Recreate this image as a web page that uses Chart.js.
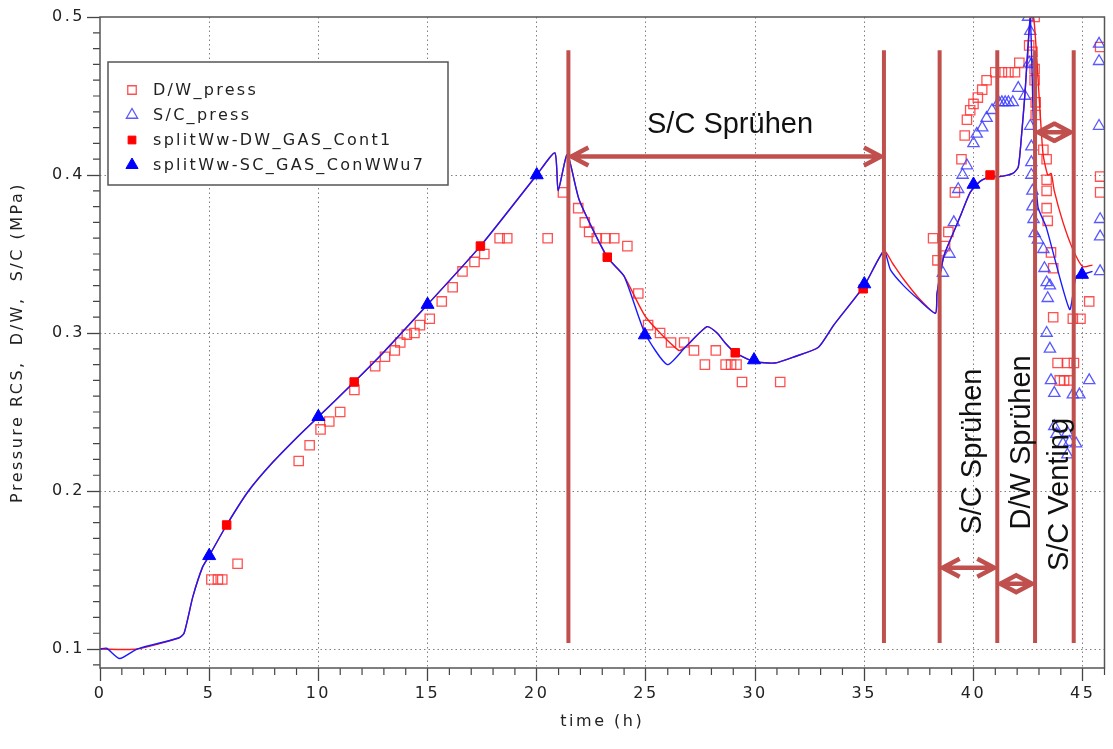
<!DOCTYPE html>
<html>
<head>
<meta charset="utf-8">
<script src="https://cdn.jsdelivr.net/npm/chart.js@4.4.1/dist/chart.umd.min.js"></script>
<style>
  html, body { margin: 0; padding: 0; background: #fff; }
  #wrap { width: 1113px; height: 749px; }
</style>
</head>
<body>
<div id="wrap"><canvas id="pressureChart" width="1113" height="749"></canvas></div>
<script>
// measured D/W pressure (open red squares)
const dwPressTime = [5.1, 5.4, 5.6, 6.3, 9.1, 9.6, 10.1, 10.5, 11.0, 11.65, 12.6, 13.05, 13.5, 13.75, 14.05, 14.4, 14.65, 15.1, 15.65, 16.15, 16.6, 17.15, 17.6, 18.3, 18.65, 20.5, 21.2, 21.9, 22.2, 22.4, 22.75, 23.15, 23.55, 24.15, 24.65, 25.1, 25.65, 26.15, 26.75, 27.2, 27.7, 28.2, 28.65, 28.9, 29.15, 29.4, 31.15, 38.15, 38.35, 38.7, 38.85, 39.15, 39.45, 39.6, 39.7, 39.85, 40.0, 40.2, 40.4, 40.6, 41.0, 41.3, 41.6, 41.9, 42.1, 42.55, 42.7, 42.8, 42.8, 42.8, 42.85, 42.85, 43.2, 43.35, 43.35, 43.35, 43.35, 43.4, 43.55, 43.65, 43.65, 43.85, 44.3, 44.6, 43.95, 44.15, 44.4, 44.55, 44.9, 45.3, 45.8, 45.8, 45.8];
const dwPressVal = [0.144, 0.144, 0.144, 0.154, 0.219, 0.229, 0.239, 0.244, 0.250, 0.264, 0.279, 0.285, 0.289, 0.294, 0.299, 0.300, 0.305, 0.309, 0.320, 0.329, 0.339, 0.345, 0.350, 0.360, 0.360, 0.360, 0.389, 0.379, 0.370, 0.364, 0.360, 0.360, 0.360, 0.355, 0.325, 0.305, 0.300, 0.294, 0.294, 0.289, 0.280, 0.289, 0.280, 0.280, 0.280, 0.269, 0.269, 0.360, 0.346, 0.355, 0.364, 0.389, 0.410, 0.425, 0.435, 0.441, 0.445, 0.449, 0.454, 0.460, 0.465, 0.465, 0.465, 0.465, 0.471, 0.482, 0.478, 0.500, 0.467, 0.460, 0.446, 0.438, 0.416, 0.410, 0.397, 0.390, 0.379, 0.371, 0.351, 0.341, 0.310, 0.281, 0.281, 0.281, 0.270, 0.270, 0.270, 0.309, 0.309, 0.320, 0.481, 0.399, 0.389];

// measured S/C pressure (open blue triangles)
const scPressTime = [38.6, 38.9, 39.1, 39.3, 39.5, 39.7, 40.0, 40.15, 40.4, 40.6, 40.85, 41.15, 41.3, 41.45, 41.6, 41.8, 42.05, 42.35, 42.5, 42.6, 42.55, 42.65, 42.6, 42.65, 42.65, 42.65, 42.7, 42.7, 42.75, 42.8, 42.95, 43.2, 43.25, 43.35, 43.5, 43.4, 43.35, 43.5, 43.55, 43.7, 43.7, 43.8, 44.1, 44.3, 44.3, 44.4, 44.7, 44.55, 44.85, 45.3, 45.75, 45.75, 45.75, 45.8, 45.8, 45.8];
const scPressVal = [0.338, 0.350, 0.370, 0.391, 0.400, 0.406, 0.420, 0.426, 0.430, 0.436, 0.441, 0.446, 0.446, 0.446, 0.446, 0.446, 0.455, 0.450, 0.500, 0.491, 0.471, 0.470, 0.431, 0.418, 0.408, 0.400, 0.390, 0.380, 0.372, 0.363, 0.359, 0.353, 0.341, 0.332, 0.330, 0.322, 0.300, 0.290, 0.270, 0.262, 0.241, 0.236, 0.230, 0.223, 0.237, 0.231, 0.230, 0.261, 0.261, 0.270, 0.483, 0.472, 0.431, 0.372, 0.361, 0.339];

// simulation splitWw-DW_GAS_Cont1 (red line)
const simDwTime = [0, 1.7, 3.6, 3.85, 4.25, 4.7, 5, 5.8, 6.8, 7.9, 9.1, 10, 11.64, 13, 15, 17.42, 20, 20.83, 20.98, 21.4, 21.95, 23.23, 24.0, 25.0, 26.5, 26.8, 27.8, 28.26, 28.64, 29.09, 29.95, 30.9, 31.8, 32.9, 33.6, 35, 35.9, 36.3, 36.8, 37.5, 38.26, 38.33, 38.64, 38.94, 39.4, 39.85, 40.3, 40.76, 41.2, 41.8, 42.05, 42.2, 42.35, 42.6, 42.75, 42.88, 43.18, 43.4, 43.56, 43.7, 44.1, 44.55, 45, 45.45];
const simDwVal = [0.100, 0.100, 0.107, 0.110, 0.133, 0.152, 0.159, 0.1785, 0.200, 0.218, 0.235, 0.247, 0.269, 0.288, 0.318, 0.355, 0.400, 0.414, 0.390, 0.413, 0.384, 0.348, 0.336, 0.310, 0.289, 0.291, 0.304, 0.300, 0.2935, 0.2875, 0.282, 0.281, 0.285, 0.291, 0.305, 0.330, 0.352, 0.344, 0.334, 0.322, 0.3125, 0.325, 0.3485, 0.359, 0.374, 0.389, 0.396, 0.399, 0.399, 0.401, 0.405, 0.425, 0.450, 0.499, 0.500, 0.478, 0.414, 0.400, 0.401, 0.390, 0.370, 0.353, 0.342, 0.343];

// simulation splitWw-SC_GAS_ConWWu7 (blue line)
const simScTime = [0, 0.3, 0.9, 1.7, 3.6, 3.85, 4.25, 4.7, 5, 5.8, 6.8, 7.9, 9.1, 10, 11.64, 13, 15, 17.42, 20, 20.83, 20.98, 21.4, 21.95, 23.23, 24.0, 24.95, 25.98, 26.8, 27.8, 28.26, 28.64, 29.09, 29.95, 30.9, 31.8, 32.9, 33.6, 35, 35.9, 36.2, 36.8, 37.5, 38.26, 38.33, 38.64, 38.94, 39.4, 39.85, 40.3, 40.76, 41.2, 41.8, 42.05, 42.2, 42.35, 42.6, 42.75, 42.95, 43.33, 44.4, 44.7, 44.97, 45.45];
const simScVal = [0.100, 0.1005, 0.094, 0.100, 0.107, 0.110, 0.133, 0.152, 0.159, 0.1785, 0.200, 0.218, 0.235, 0.247, 0.269, 0.288, 0.318, 0.355, 0.400, 0.414, 0.390, 0.413, 0.384, 0.348, 0.336, 0.300, 0.280, 0.291, 0.304, 0.300, 0.2935, 0.2875, 0.282, 0.281, 0.285, 0.291, 0.305, 0.330, 0.352, 0.340, 0.330, 0.321, 0.3125, 0.325, 0.3485, 0.359, 0.374, 0.389, 0.396, 0.399, 0.399, 0.401, 0.405, 0.425, 0.450, 0.499, 0.430, 0.380, 0.367, 0.315, 0.336, 0.337, 0.339];

// symbols on the simulation curves
const simDwMarkTime = [5.8, 11.64, 17.42, 23.23, 29.09, 34.95, 40.76];
const simDwMarkVal = [0.1785, 0.269, 0.355, 0.348, 0.2875, 0.328, 0.400];
const simScMarkTime = [5, 10, 15, 20, 24.95, 29.95, 35, 40, 44.97];
const simScMarkVal = [0.159, 0.247, 0.318, 0.400, 0.2987, 0.2829, 0.331, 0.394, 0.337];

// axes
const xTickValues = [0, 5, 10, 15, 20, 25, 30, 35, 40, 45];
const yTickValues = [0.1, 0.2, 0.3, 0.4, 0.5];

// phase markers (time in h, pressure in MPa)
const phaseLineTimes = [21.45, 35.9, 38.45, 41.09, 42.82, 44.59];
const phaseArrows = [[21.45, 35.9, 0.4117], [38.45, 41.09, 0.1514], [41.09, 42.82, 0.1413], [42.82, 44.59, 0.427]];
const phaseLabels = ['S/C Sprühen', 'S/C Sprühen', 'D/W Sprühen', 'S/C Venting'];
const phaseLabelPos = [[28.85, 0.4314, 0], [40.0, 0.225, -90], [42.22, 0.2308, -90], [43.96, 0.1978, -90]];

const pts = (ts, vs) => ts.map((t, i) => ({ x: t, y: vs[i] }));
const strokeFont = '"DejaVu Sans", Verdana, sans-serif';
const phaseColor = '#c0504d';

const datasets = [
    { label: 'splitWw-SC_GAS_ConWWu7', data: pts(simScMarkTime, simScMarkVal), showLine: false, pointStyle: 'triangle', pointRadius: 7.5, backgroundColor: '#0000ff', borderColor: '#0000ff', borderWidth: 1, order: 0 },
    { label: 'splitWw-DW_GAS_Cont1', data: pts(simDwMarkTime, simDwMarkVal), showLine: false, pointStyle: 'rect', pointRadius: 6, backgroundColor: '#ff0000', borderColor: '#ff0000', borderWidth: 1, order: 1 },
    { label: 'sc line', data: pts(simScTime, simScVal), showLine: true, pointRadius: 0, borderColor: '#1a1aff', borderWidth: 1.4, tension: 0.2, order: 2 },
    { label: 'dw line', data: pts(simDwTime, simDwVal), showLine: true, pointRadius: 0, borderColor: '#ff1a1a', borderWidth: 1.4, tension: 0.2, order: 3 },
    { label: 'S/C_press', data: pts(scPressTime, scPressVal), showLine: false, pointStyle: 'triangle', pointRadius: 6.5, backgroundColor: 'rgba(0,0,0,0)', borderColor: 'rgba(60,60,255,0.85)', borderWidth: 1.3, order: 4 },
    { label: 'D/W_press', data: pts(dwPressTime, dwPressVal), showLine: false, pointStyle: 'rect', pointRadius: 6.6, backgroundColor: 'rgba(0,0,0,0)', borderColor: 'rgba(255,50,50,0.85)', borderWidth: 1.3, order: 5 }
];
const legendOrder = [5, 4, 1, 0];

function marker(ctx, style, x, y, r, fill, stroke, lw) {
    ctx.beginPath();
    if (style === 'rect') {
        const s = r * Math.SQRT1_2;
        ctx.rect(x - s, y - s, 2 * s, 2 * s);
    } else {
        ctx.moveTo(x, y - r);
        ctx.lineTo(x + r * 0.866, y + r * 0.5);
        ctx.lineTo(x - r * 0.866, y + r * 0.5);
        ctx.closePath();
    }
    ctx.fillStyle = fill;
    ctx.fill();
    ctx.lineWidth = lw;
    ctx.strokeStyle = stroke;
    ctx.stroke();
}

function doubleArrow(ctx, x0, x1, y) {
    ctx.beginPath();
    ctx.moveTo(x0, y); ctx.lineTo(x1, y);
    ctx.moveTo(x0 + 17, y - 9); ctx.lineTo(x0, y); ctx.lineTo(x0 + 17, y + 9);
    ctx.moveTo(x1 - 17, y - 9); ctx.lineTo(x1, y); ctx.lineTo(x1 - 17, y + 9);
    ctx.stroke();
}

const textSpacing = {
    id: 'textSpacing',
    beforeDraw(chart) { chart.ctx.letterSpacing = '2.5px'; }
};

const phasePlugin = {
    id: 'phasePlugin',
    afterDatasetsDraw(chart) {
        const { ctx, scales: { x, y } } = chart;
        ctx.save();
        ctx.strokeStyle = phaseColor;
        ctx.lineWidth = 4;
        const top = y.getPixelForValue(0.479), bottom = y.getPixelForValue(0.1038);
        phaseLineTimes.forEach(t => {
            const px = x.getPixelForValue(t);
            ctx.beginPath(); ctx.moveTo(px, top); ctx.lineTo(px, bottom); ctx.stroke();
        });
        ctx.lineWidth = 4.5;
        ctx.lineJoin = 'miter';
        phaseArrows.forEach(([t0, t1, v]) => doubleArrow(ctx, x.getPixelForValue(t0) + 3, x.getPixelForValue(t1) - 3, y.getPixelForValue(v)));
        ctx.letterSpacing = '0px';
        ctx.fillStyle = '#111';
        ctx.font = '29px "Liberation Sans", Arial, sans-serif';
        ctx.textAlign = 'center';
        ctx.textBaseline = 'middle';
        phaseLabels.forEach((txt, i) => {
            const [t, v, rot] = phaseLabelPos[i];
            ctx.save();
            ctx.translate(x.getPixelForValue(t), y.getPixelForValue(v));
            ctx.rotate(rot * Math.PI / 180);
            ctx.fillText(txt, 0, 0);
            ctx.restore();
        });
        ctx.restore();
    }
};

const framePlugin = {
    id: 'framePlugin',
    afterDraw(chart) {
        const { ctx, chartArea: a, scales: { x, y } } = chart;
        ctx.save();
        ctx.strokeStyle = '#444';
        // minor ticks
        ctx.beginPath();
        for (let t = 1; t <= 46; t++) {
            if (t % 5 === 0) continue;
            const px = x.getPixelForValue(t);
            ctx.moveTo(px, a.bottom); ctx.lineTo(px, a.bottom + 7);
        }
        for (let k = 9; k < 50; k++) {
            if (k % 10 === 0) continue;
            const py = y.getPixelForValue(k / 100);
            ctx.moveTo(a.left, py); ctx.lineTo(a.left - 7, py);
        }
        ctx.lineWidth = 1.2;
        ctx.stroke();
        ctx.lineWidth = 1.5;
        ctx.strokeStyle = '#555';
        ctx.strokeRect(a.left, a.top, a.right - a.left, a.bottom - a.top);

        // legend box
        const lx = a.left + 8, ly = a.top + 45;
        ctx.fillStyle = '#fff';
        ctx.fillRect(lx, ly, 340, 123);
        ctx.strokeRect(lx, ly, 340, 123);
        ctx.letterSpacing = '2.3px';
        ctx.font = '16px ' + strokeFont;
        ctx.textBaseline = 'middle';
        ctx.textAlign = 'left';
        legendOrder.forEach((idx, i) => {
            const ds = chart.data.datasets[idx];
            const ry = ly + 28 + i * 25;
            const filled = ds.backgroundColor !== 'rgba(0,0,0,0)';
            const r = ds.pointStyle === 'rect' ? (filled ? 5.5 : 6) : (filled ? 7 : 6.5);
            marker(ctx, ds.pointStyle, lx + 24, ry, r, ds.backgroundColor, ds.borderColor, ds.borderWidth);
            ctx.fillStyle = '#222';
            ctx.fillText(ds.label, lx + 45, ry + 1);
        });
        ctx.restore();
    }
};

new Chart(document.getElementById('pressureChart'), {
    type: 'scatter',
    data: { datasets },
    options: {
        responsive: false,
        animation: false,
        devicePixelRatio: 1,
        layout: { padding: { top: 17, right: 3, left: 0, bottom: 0 } },
        plugins: { legend: { display: false }, tooltip: { enabled: false } },
        scales: {
            x: {
                type: 'linear', min: 0, max: 46,
                afterBuildTicks: axis => { axis.ticks = xTickValues.map(v => ({ value: v })); },
                afterFit: axis => { axis.height = 81; },
                grid: { color: c => (c.tick && c.tick.value === 0) ? 'rgba(0,0,0,0)' : '#808080', lineWidth: 1, tickLength: 13, tickColor: '#444', tickWidth: 1.3 },
                border: { display: false, dash: [1.5, 3] },
                ticks: { color: '#222', padding: 3, font: { family: strokeFont, size: 16 }, callback: v => String(v) },
                title: { display: true, text: 'time (h)', color: '#222', font: { family: strokeFont, size: 16 }, padding: { top: 0, bottom: 18 } }
            },
            y: {
                type: 'linear', min: 0.088, max: 0.5,
                afterBuildTicks: axis => { axis.ticks = yTickValues.map(v => ({ value: v })); },
                afterFit: axis => { axis.width = 100; },
                grid: { color: c => (c.tick && c.tick.value === 0.5) ? 'rgba(0,0,0,0)' : '#808080', lineWidth: 1, tickLength: 13, tickColor: '#444', tickWidth: 1.3 },
                border: { display: false, dash: [1.5, 3] },
                ticks: { color: '#222', padding: 2, font: { family: strokeFont, size: 16 }, callback: v => v.toFixed(1) },
                title: { display: true, text: 'Pressure RCS,  D/W,  S/C (MPa)', color: '#222', font: { family: strokeFont, size: 16 }, padding: { top: 8, bottom: 0 } }
            }
        }
    },
    plugins: [textSpacing, phasePlugin, framePlugin]
});
</script>
</body>
</html>
